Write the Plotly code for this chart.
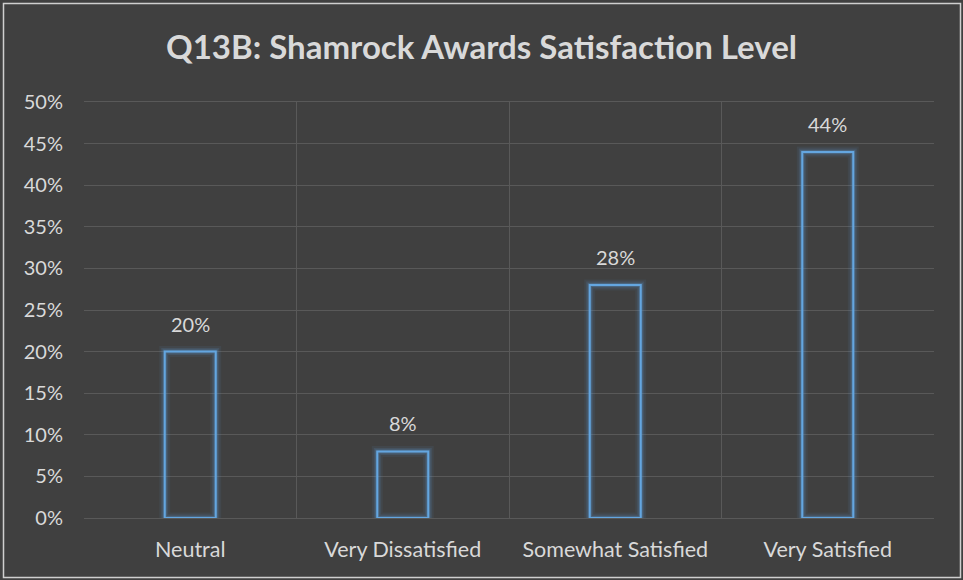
import plotly.graph_objects as go

categories = ["Neutral", "Very Dissatisfied", "Somewhat Satisfied", "Very Satisfied"]
values = [0.20, 0.08, 0.28, 0.44]
labels = ["20%", "8%", "28%", "44%"]
tick_vals = [0, 0.05, 0.10, 0.15, 0.20, 0.25, 0.30, 0.35, 0.40, 0.45, 0.50]
tick_text = ["0%", "5%", "10%", "15%", "20%", "25%", "30%", "35%", "40%", "45%", "50%"]

BG = "#404040"
GRID = "#595959"
TXT = "#d9d9d9"
FONT = "Lato, Open Sans, sans-serif"

fig = go.Figure()
# glow layers
for w, a in [(11, 0.08), (7, 0.15), (4, 0.28)]:
    fig.add_trace(go.Bar(
        x=categories, y=values, width=0.24,
        marker=dict(color="rgba(0,0,0,0)", line=dict(color=f"rgba(91,155,213,{a})", width=w)),
        hoverinfo="skip", showlegend=False))
fig.add_trace(go.Bar(
    x=categories, y=values, width=0.24,
    marker=dict(color="rgba(0,0,0,0)", line=dict(color="#64a6e0", width=2)),
    showlegend=False))

for c, v, t in zip(categories, values, labels):
    fig.add_annotation(x=c, y=v, text=t, showarrow=False, yanchor="bottom", yshift=14,
                       font=dict(color=TXT, size=20, family=FONT))

W, H = 963, 580
ml, mr, mt, mb = 84, 29, 102, 62
pw, ph = W - ml - mr, H - mt - mb

fig.update_layout(
    width=W, height=H,
    margin=dict(l=ml, r=mr, t=mt, b=mb),
    paper_bgcolor=BG, plot_bgcolor=BG,
    barmode="overlay",
    title=dict(text="<b>Q13B: Shamrock Awards Satisfaction Level</b>",
               x=0.5, xanchor="center", y=1 - 47 / H, yanchor="middle",
               font=dict(size=33, color=TXT, family=FONT)),
    xaxis=dict(type="category", tickson="boundaries", showgrid=True, gridcolor=GRID,
               gridwidth=1, ticks="", tickfont=dict(size=21.5, color=TXT, family=FONT),
               showline=True, linecolor=GRID, mirror=True, range=[-0.5, 3.5],
               ticklabelstandoff=12),
    yaxis=dict(range=[0, 0.5], tickvals=tick_vals, ticktext=tick_text, showgrid=True,
               gridcolor=GRID, gridwidth=1, zeroline=False, ticks="", ticklabelstandoff=20,
               tickfont=dict(size=20, color=TXT, family=FONT)),
    shapes=[dict(type="rect", xref="paper", yref="paper",
                 x0=(3.5 - ml) / pw, x1=(W - 2.5 - ml) / pw,
                 y0=-(H - 2.5 - ph - mt) / ph, y1=1 + (mt - 3.5) / ph,
                 line=dict(color="#cfcfcf", width=1.5), layer="above")],
)

fig.write_html("out.html", config={"displayModeBar": False},
               post_script="document.body.style.margin='0';")
